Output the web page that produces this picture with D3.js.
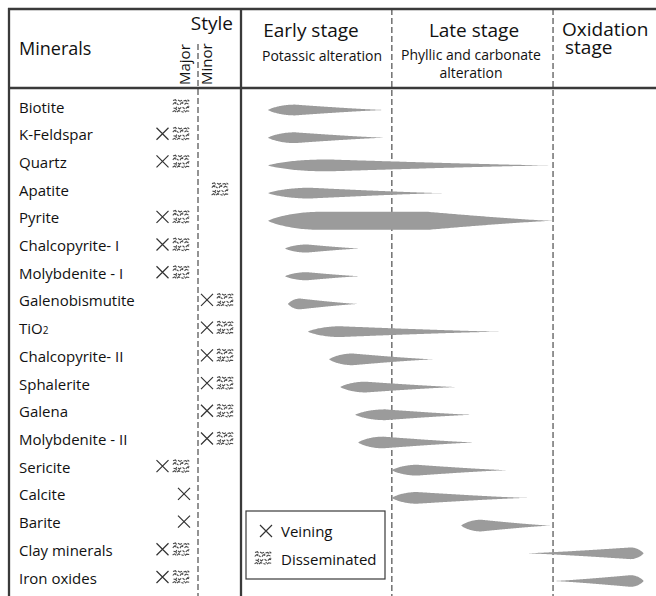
<!DOCTYPE html>
<html>
<head>
<meta charset="utf-8">
<script src="https://d3js.org/d3.v7.min.js"></script>
<title>paragenesis</title>
<style>
  body { margin: 0; background: #fff; }
  svg text { font-family: "Open Sans", sans-serif; fill: #111; }
</style>
</head>
<body>
<svg id="chart"></svg>
<script>
// minerals, top to bottom
const minerals = ["Biotite", "K-Feldspar", "Quartz", "Apatite", "Pyrite", "Chalcopyrite- I",
  "Molybdenite - I", "Galenobismutite", "TiO2", "Chalcopyrite- II", "Sphalerite", "Galena",
  "Molybdenite - II", "Sericite", "Calcite", "Barite", "Clay minerals", "Iron oxides"];

// style: Major / Minor column, V = veining, D = disseminated
const styleColumn = ["Major", "Major", "Major", "Minor", "Major", "Major", "Major", "Minor", "Minor",
  "Minor", "Minor", "Minor", "Minor", "Major", "Major", "Major", "Major", "Major"];
const styleKinds = ["D", "VD", "VD", "D", "VD", "VD", "VD", "VD", "VD",
  "VD", "VD", "VD", "VD", "VD", "V", "V", "VD", "VD"];

// relative time 0-100 across the stages
const stageBreaks = [0, 36.3, 75.1, 100];

// blunt end, start / end of the thickest part, pointed end, relative abundance (0-10)
const startAt   = [6.5, 6.5, 6.5, 6.5, 6.5, 10.6, 10.6, 11.3, 16.1, 21.2, 23.9, 27.5, 28.2, 36.3, 36.3, 53.0, 96.9, 96.9];
const peakAt    = [13.0, 13.0, 19.8, 16.6, 19.0, 15.9, 15.9, 14.2, 23.9, 26.9, 30.0, 34.7, 34.2, 42.4, 42.4, 57.8, 93.7, 93.7];
const peakTo    = [13.0, 13.0, 22.0, 16.6, 45.0, 15.9, 15.9, 14.2, 23.9, 26.9, 30.0, 34.7, 34.2, 42.4, 42.4, 57.8, 93.7, 93.7];
const endAt     = [34.7, 34.7, 74.5, 48.4, 75.0, 28.7, 28.7, 28.2, 62.4, 46.3, 52.0, 55.7, 56.4, 64.1, 68.9, 74.5, 68.7, 75.2];
const abundance = [6.0, 6.0, 6.5, 6.0, 10.0, 4.5, 4.5, 6.0, 6.0, 6.5, 6.0, 6.0, 6.5, 6.0, 6.5, 6.5, 6.5, 6.5];

const width = 656, height = 596;
const svg = d3.select("#chart").attr("width", width).attr("height", height);

const x = d3.scaleLinear().domain([0, 100]).range([241, 656.5]);
const y = d3.scalePoint().domain(minerals).range([110, 581]);
const thick = d3.scaleLinear().domain([0, 10]).range([0, 18]);

const lineCol = "#3a3a3a";

// dashed dividers
svg.selectAll("line.stage").data(stageBreaks.slice(1, 3))
  .join("line").attr("class", "stage")
  .attr("x1", d => x(d)).attr("x2", d => x(d))
  .attr("y1", 9).attr("y2", height)
  .attr("stroke", "#666").attr("stroke-width", 1.4).attr("stroke-dasharray", "6,3");
svg.append("line")
  .attr("x1", 198).attr("x2", 198).attr("y1", 44).attr("y2", height)
  .attr("stroke", "#666").attr("stroke-width", 1.4).attr("stroke-dasharray", "6,3");

// teardrops
function dropPath(i) {
  const x0 = x(startAt[i]), xp = x(peakAt[i]), xq = x(peakTo[i]), x1 = x(endAt[i]);
  const half = thick(abundance[i]) / 2;
  const cy = y(minerals[i]);
  const n = 160;
  const top = d3.range(n + 1).map(k => {
    const t = k / n;
    const px = x0 + (x1 - x0) * t;
    const s = (px - x0) / (xp - x0);
    const u = (px - xq) / (x1 - xq);
    let h;
    if (s < 1) h = half * Math.pow(1 - (1 - s) * (1 - s), 0.85);
    else if (u <= 0) h = half;
    else h = half * Math.pow(1 - u, 1.2);
    return [px, cy - h];
  });
  const bottom = top.map(p => [p[0], 2 * cy - p[1]]).reverse();
  return d3.line()(top.concat(bottom)) + "Z";
}

svg.append("g").selectAll("path").data(minerals)
  .join("path")
  .attr("d", (d, i) => dropPath(i))
  .attr("fill", "#9b9b9b");

// frame
const frame = svg.append("g").attr("stroke", lineCol).attr("stroke-width", 2.3);
frame.append("line").attr("x1", 8).attr("x2", width).attr("y1", 9).attr("y2", 9);
frame.append("line").attr("x1", 8).attr("x2", width).attr("y1", 88).attr("y2", 88);
frame.append("line").attr("x1", 9).attr("x2", 9).attr("y1", 8).attr("y2", height);
frame.append("line").attr("x1", 241).attr("x2", 241).attr("y1", 8).attr("y2", height);

// header text
svg.append("text").attr("x", 19).attr("y", 55).attr("font-size", 18).text("Minerals");
svg.append("text").attr("x", 233).attr("y", 30).attr("font-size", 19)
  .attr("text-anchor", "end").text("Style");
svg.append("text").attr("transform", "translate(190,85) rotate(-90)")
  .attr("font-size", 15).text("Major");
svg.append("text").attr("transform", "translate(212,85) rotate(-90)")
  .attr("font-size", 15).text("Minor");

svg.append("text").attr("x", 311).attr("y", 37).attr("font-size", 19)
  .attr("text-anchor", "middle").text("Early stage");
svg.append("text").attr("x", 322).attr("y", 61).attr("font-size", 14)
  .attr("text-anchor", "middle").text("Potassic alteration");
svg.append("text").attr("x", 474).attr("y", 37).attr("font-size", 19)
  .attr("text-anchor", "middle").text("Late stage");
svg.append("text").attr("x", 471).attr("y", 60).attr("font-size", 14)
  .attr("text-anchor", "middle").text("Phyllic and carbonate");
svg.append("text").attr("x", 471).attr("y", 78).attr("font-size", 14)
  .attr("text-anchor", "middle").text("alteration");
svg.append("text").attr("x", 562).attr("y", 36).attr("font-size", 19).text("Oxidation");
svg.append("text").attr("x", 565).attr("y", 54).attr("font-size", 19).text("stage");

// mineral names
svg.append("g").selectAll("text").data(minerals)
  .join("text")
  .attr("x", 19).attr("y", d => y(d) + 2.5).attr("font-size", 15)
  .each(function (d) {
    const t = d3.select(this);
    if (d === "TiO2") {
      t.append("tspan").text("TiO");
      t.append("tspan").attr("font-size", 10).text("2");
    } else t.text(d);
  });

// symbols
function drawCross(g, cx, cy, size) {
  const r = size / 2;
  g.append("path")
    .attr("d", `M${cx - r},${cy - r}L${cx + r},${cy + r}M${cx - r},${cy + r}L${cx + r},${cy - r}`)
    .attr("stroke", "#333").attr("stroke-width", 1.2).attr("fill", "none");
}
const specks = [
  "M1,1.5l2.5,-0.8l1,1.6", "M6,1l2,1.2l2,-1", "M11.5,2l2.2,-0.6l1.5,1.2", "M15.5,0.8l1.8,1.4",
  "M0.8,5.5l1.6,-1.8l1.4,1.2", "M4.6,4.5l2,1.4", "M8,5.8l1.2,-2l2,0.6", "M12.5,5.5l1.6,-1.4l2.4,1",
  "M1.5,9l2.4,0.6l0.8,-1.8", "M6,8.6l1.4,1.4l1.8,-1.6", "M10.6,8.2l2,1.6", "M13.8,9.6l1.8,-1.8l1.4,1",
  "M0.6,12.8l2,-1.2l1.6,1.4", "M5,13l1.8,-1.6l1.4,1", "M9.4,12.4l2.2,0.8", "M13,13.2l1.6,-1.4l2.6,0.4",
  "M3.2,3.2l1,1", "M10,3.6l1.2,-0.6", "M3.8,11l1.2,-0.8", "M11.8,11.2l0.8,1", "M16.4,6.8l0.8,0.8"
];
function drawSpeckle(g, left, cy) {
  g.append("g").attr("transform", `translate(${left},${cy - 7})`)
    .selectAll("path").data(specks).join("path")
    .attr("d", d => d)
    .attr("stroke", "#4a4a4a").attr("stroke-width", 1.1).attr("fill", "none");
}

const symG = svg.append("g");
minerals.forEach((m, i) => {
  const cy = y(m) - 4;
  const v = styleKinds[i].includes("V"), dd = styleKinds[i].includes("D");
  if (styleColumn[i] === "Major") {
    if (v) drawCross(symG, dd ? 162.5 : 184, cy, 12);
    if (dd) drawSpeckle(symG, 172, cy);
  } else {
    if (v) drawCross(symG, 207, cy, 12);
    if (dd) drawSpeckle(symG, v ? 216 : 211, cy);
  }
});

// legend
const leg = svg.append("g");
leg.append("rect").attr("x", 246).attr("y", 511).attr("width", 139).attr("height", 68)
  .attr("fill", "#fff").attr("stroke", lineCol).attr("stroke-width", 1.2);
drawCross(leg, 266, 531, 12);
leg.append("text").attr("x", 281).attr("y", 537).attr("font-size", 15).text("Veining");
drawSpeckle(leg, 254, 558);
leg.append("text").attr("x", 281).attr("y", 565).attr("font-size", 15).text("Disseminated");
</script>
</body>
</html>
